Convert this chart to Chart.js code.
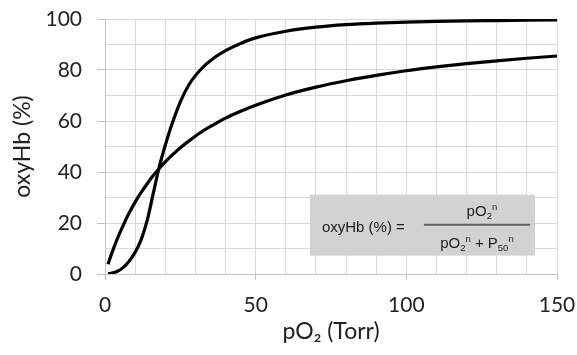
<!DOCTYPE html>
<html>
<head>
<meta charset="utf-8">
<script src="https://cdn.jsdelivr.net/npm/chart.js@4.4.1/dist/chart.umd.min.js"></script>
<style>
  html, body { margin: 0; padding: 0; background: #fff; }
  #wrap { width: 577px; height: 355px; }
</style>
</head>
<body>
<div id="wrap"><canvas id="myChart"></canvas></div>
<script>
// pO2 (Torr) where the curves were read
var pO2 = [1, 2, 4, 6, 8, 10, 12, 14, 16, 18, 20, 22, 25, 28, 32, 36, 40, 45, 50, 60, 70, 80, 90, 100, 110, 120, 130, 140, 150];
// sigmoidal curve (%)
var sigmoid = [0.1, 0.3, 1.0, 2.5, 5.0, 8.5, 13.5, 21, 31.5, 42, 50.5, 58, 67.5, 74.5, 80.5, 84.6, 87.6, 90.4, 92.6, 95.2, 96.8, 97.8, 98.4, 98.8, 99.1, 99.3, 99.4, 99.5, 99.6];
// hyperbolic curve (%)
var hyperbolic = [3.8, 7.3, 13.6, 19.0, 23.9, 28.2, 32.0, 35.4, 38.6, 41.4, 44.0, 46.3, 49.5, 52.3, 55.7, 58.5, 61.1, 63.8, 66.2, 70.2, 73.3, 75.8, 77.9, 79.7, 81.2, 82.5, 83.6, 84.6, 85.5];

var xTickLabels = [0, 50, 100, 150];
var yTickLabels = [0, 20, 40, 60, 80, 100];

function toPoints(ys) {
	return pO2.map(function(x, i) { return { x: x, y: ys[i] }; });
}

// grey box with the Hill equation, placed in axis units
var formulaBox = { x0: 68, x1: 142.7, y0: 31.1, y1: 7.2 };

function drawRuns(ctx, parts, x, y, align) {
	var big = '15px "Liberation Sans", Arial, sans-serif';
	var small = '9.5px "Liberation Sans", Arial, sans-serif';
	var w = 0;
	parts.forEach(function(p) {
		ctx.font = p[1] ? small : big;
		w += ctx.measureText(p[0]).width;
	});
	var cx = align === 'center' ? x - w / 2 : x;
	parts.forEach(function(p) {
		ctx.font = p[1] ? small : big;
		var dy = p[1] === 'sub' ? 3 : (p[1] === 'sup' ? -6 : 0);
		ctx.fillText(p[0], cx, y + dy);
		cx += ctx.measureText(p[0]).width;
	});
}

var formulaPlugin = {
	id: 'formula',
	afterDraw: function(chart) {
		var ctx = chart.ctx;
		var xs = chart.scales.x, ys = chart.scales.y;
		var l = xs.getPixelForValue(formulaBox.x0);
		var r = xs.getPixelForValue(formulaBox.x1);
		var t = ys.getPixelForValue(formulaBox.y0);
		var b = ys.getPixelForValue(formulaBox.y1);
		ctx.save();
		ctx.fillStyle = '#d2d2d2';
		ctx.fillRect(l, t, r - l, b - t);
		ctx.fillStyle = '#1e1e1e';
		ctx.textBaseline = 'alphabetic';
		ctx.textAlign = 'left';
		drawRuns(ctx, [['oxyHb (%) =']], l + 12, t + 37, 'left');
		ctx.strokeStyle = '#606060';
		ctx.lineWidth = 2;
		ctx.beginPath();
		ctx.moveTo(l + 114, t + 30);
		ctx.lineTo(r - 5, t + 30);
		ctx.stroke();
		drawRuns(ctx, [['pO'], ['2', 'sub'], ['n', 'sup']], l + 172, t + 21, 'center');
		drawRuns(ctx, [['pO'], ['2', 'sub'], ['n', 'sup'], [' + P'], ['50', 'sub'], ['n', 'sup']], l + 167, t + 53, 'center');
		ctx.restore();
	}
};

var gridColor = '#d9d9d9';
var labelFont = { family: 'Lato, "Open Sans", sans-serif', size: 21 };

var ctx = document.getElementById('myChart').getContext('2d');
var myChart = new Chart(ctx, {
	type: 'line',
	data: {
		datasets: [{
			label: 'sigmoidal',
			data: toPoints(sigmoid),
			borderColor: '#000',
			borderWidth: 3.2,
			pointRadius: 0,
			fill: false,
			cubicInterpolationMode: 'monotone'
		}, {
			label: 'hyperbolic',
			data: toPoints(hyperbolic),
			borderColor: '#000',
			borderWidth: 3.2,
			pointRadius: 0,
			fill: false,
			cubicInterpolationMode: 'monotone'
		}]
	},
	options: {
		responsive: true,
		maintainAspectRatio: false,
		animation: false,
		layout: { padding: { top: 19, right: 20, left: 0, bottom: 0 } },
		plugins: { legend: { display: false }, tooltip: { enabled: false } },
		scales: {
			x: {
				type: 'linear',
				min: 0,
				max: 150,
				afterFit: function(scale) {
					scale.height = 81;
					scale.paddingLeft = 0;
					scale.paddingRight = 0;
				},
				ticks: {
					stepSize: 10,
					autoSkip: false,
					maxRotation: 0,
					padding: 13,
					color: '#222',
					font: labelFont,
					callback: function(v) { return xTickLabels.indexOf(v) >= 0 ? String(v) : ''; }
				},
				grid: {
					color: gridColor,
					tickLength: 6,
					tickColor: function(c) { return c.tick && xTickLabels.indexOf(c.tick.value) >= 0 ? '#bfbfbf' : 'rgba(0,0,0,0)'; }
				},
				border: { color: '#c4c4c4' },
				title: {
					display: true,
					text: 'pO\u2082 (Torr)',
					color: '#222',
					font: { family: 'Lato, "Open Sans", sans-serif', size: 23 },
					padding: { top: 0, bottom: 10 }
				}
			},
			y: {
				min: 0,
				max: 100,
				afterFit: function(scale) {
					scale.width = 105;
					scale.paddingTop = 0;
					scale.paddingBottom = 0;
				},
				ticks: {
					stepSize: 10,
					autoSkip: false,
					padding: 15,
					color: '#222',
					font: labelFont,
					callback: function(v) { return yTickLabels.indexOf(v) >= 0 ? String(v) : ''; }
				},
				grid: {
					color: gridColor,
					tickLength: 8,
					tickColor: function(c) { return c.tick && yTickLabels.indexOf(c.tick.value) >= 0 ? '#bfbfbf' : 'rgba(0,0,0,0)'; }
				},
				border: { color: '#c4c4c4' },
				title: {
					display: true,
					text: 'oxyHb (%)',
					color: '#222',
					font: { family: 'Lato, "Open Sans", sans-serif', size: 23 },
					padding: { top: 9, bottom: 0 }
				}
			}
		}
	},
	plugins: [formulaPlugin]
});
</script>
</body>
</html>
